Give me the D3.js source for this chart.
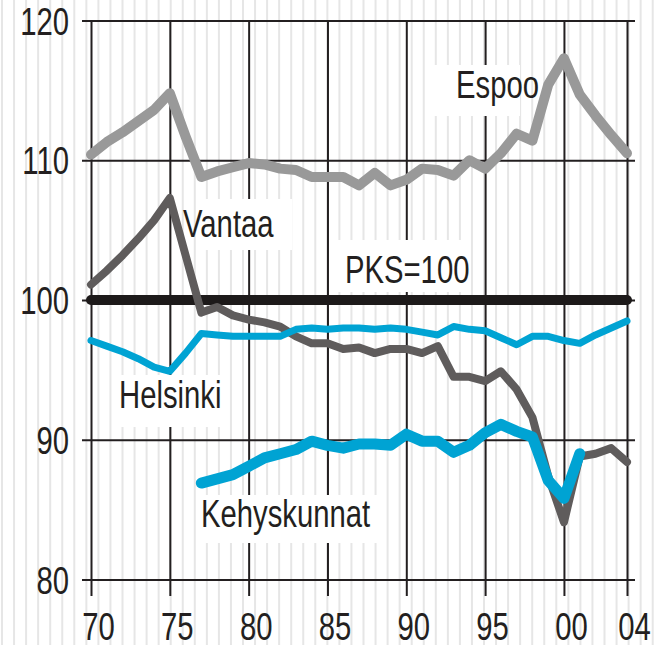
<!DOCTYPE html>
<html>
<head>
<meta charset="utf-8">
<script src="https://cdn.jsdelivr.net/npm/d3@7"></script>
<style>
  body { margin: 0; background: #fff; }
  svg { display: block; }
  text { font-family: "Liberation Sans", Arial, sans-serif; fill: #231f20; }
</style>
</head>
<body>
<div id="chart"></div>
<script>

// years on the x axis
var years = [1970, 1971, 1972, 1973, 1974, 1975, 1976, 1977, 1978, 1979,
             1980, 1981, 1982, 1983, 1984, 1985, 1986, 1987, 1988, 1989,
             1990, 1991, 1992, 1993, 1994, 1995, 1996, 1997, 1998, 1999,
             2000, 2001, 2002, 2003, 2004];
var kehysYears = years.filter(function (d) { return d >= 1977 && d <= 2001; });

// index, PKS = 100
var espoo = [110.4, 111.3, 112.0, 112.8, 113.6, 114.8, 111.7, 108.8, 109.2, 109.5,
             109.8, 109.7, 109.4, 109.3, 108.8, 108.8, 108.8, 108.2, 109.1, 108.2,
             108.6, 109.4, 109.3, 108.9, 110.0, 109.4, 110.5, 111.9, 111.4, 115.4,
             117.3, 114.7, 113.2, 111.8, 110.5];
var vantaa = [101.1, 102.1, 103.2, 104.4, 105.7, 107.3, 103.2, 99.1, 99.5, 98.9,
              98.6, 98.4, 98.1, 97.4, 96.9, 96.9, 96.5, 96.6, 96.2, 96.5,
              96.5, 96.2, 96.7, 94.5, 94.5, 94.2, 94.9, 93.6, 91.6, 87.4,
              84.1, 88.8, 89.0, 89.4, 88.4];
var helsinki = [97.1, 96.7, 96.3, 95.8, 95.2, 94.9, 96.2, 97.6, 97.5, 97.4,
                97.4, 97.4, 97.4, 97.9, 98.0, 97.9, 98.0, 98.0, 97.9, 98.0,
                97.9, 97.7, 97.5, 98.1, 97.9, 97.8, 97.3, 96.8, 97.4, 97.4,
                97.1, 96.9, 97.5, 98.0, 98.5];
var kehyskunnat = [86.9, 87.2, 87.5, 88.1, 88.7, 89.0, 89.3, 89.9, 89.6, 89.4,
                   89.7, 89.7, 89.6, 90.4, 89.9, 89.9, 89.1, 89.6, 90.5, 91.1,
                   90.6, 90.2, 87.1, 85.8, 89.0];

var yTicks = [80, 90, 100, 110, 120];
var xTicks = [1970, 1975, 1980, 1985, 1990, 1995, 2000, 2004];
var baseLevel = 100;

var W = 662, H = 645;
var ink = "#231f20";
var sx = 0.77; // narrow type

var svg = d3.select("#chart").append("svg")
    .attr("width", W)
    .attr("height", H);

var x = d3.scaleLinear().domain([1970, 2004]).range([91, 627]);
var y = d3.scaleLinear().domain([80, 120]).range([579.5, 20.5]);

// faint vertical stripes of the scanned background
svg.append("g")
    .selectAll("rect")
    .data(d3.range(1, W, 12.05))
    .enter()
    .append("rect")
    .attr("x", function (d) { return d; })
    .attr("y", 0)
    .attr("width", 2)
    .attr("height", H)
    .attr("fill", "#e6e6e6");

// horizontal grid
var yGrid = svg.append("g")
    .attr("transform", "translate(635,0)")
    .call(d3.axisLeft(y).tickValues(yTicks).tickSize(635 - 82).tickFormat(""));
yGrid.select(".domain").remove();
yGrid.selectAll("line").attr("stroke", ink).attr("stroke-width", 2);

// vertical grid
var xGrid = svg.append("g")
    .attr("transform", "translate(0,596)")
    .call(d3.axisBottom(x).tickValues(xTicks).tickSize(-(596 - y(120))).tickFormat(""));
xGrid.select(".domain").remove();
xGrid.selectAll("line").attr("stroke", ink).attr("stroke-width", 2);

// y labels
var yAxis = svg.append("g")
    .attr("transform", "translate(82,0)")
    .call(d3.axisLeft(y).tickValues(yTicks).tickSize(0).tickPadding(13));
yAxis.select(".domain").remove();
yAxis.selectAll("text")
    .attr("x", -13 / sx)
    .attr("dy", "0.36em")
    .attr("transform", "scale(" + sx + ",1)")
    .style("font-size", "38px")
    .attr("fill", ink);

// x labels
var xAxis = svg.append("g")
    .attr("transform", "translate(0,596)")
    .call(d3.axisBottom(x).tickValues(xTicks).tickSize(0)
        .tickFormat(function (d) { return String(d).slice(2); }));
xAxis.select(".domain").remove();
xAxis.selectAll("text")
    .attr("y", 0)
    .attr("dy", 0)
    .attr("transform", "translate(7,44) scale(" + sx + ",1)")
    .style("font-size", "38px")
    .attr("fill", ink);

// white boxes behind labels
var labels = [
    {text: "Espoo",       tx: 456, ty: 98,  box: [427, 65, 520, 116]},
    {text: "Vantaa",      tx: 183, ty: 237, box: [203, 199, 292, 250]},
    {text: "PKS=100",     tx: 345, ty: 283, box: [338, 240, 462, 292]},
    {text: "Helsinki",    tx: 119, ty: 408, box: [113, 375, 223, 427]},
    {text: "Kehyskunnat", tx: 201, ty: 527, box: [197, 495, 377, 543]}
];

svg.append("g")
    .selectAll("rect")
    .data(labels)
    .enter()
    .append("rect")
    .attr("x", function (d) { return d.box[0]; })
    .attr("y", function (d) { return d.box[1]; })
    .attr("width", function (d) { return d.box[2] - d.box[0]; })
    .attr("height", function (d) { return d.box[3] - d.box[1]; })
    .attr("fill", "#fff");

// PKS = 100 line
svg.append("line")
    .attr("x1", x(1970)).attr("x2", x(2004))
    .attr("y1", y(baseLevel)).attr("y2", y(baseLevel))
    .attr("stroke", "#1d1a1a")
    .attr("stroke-width", 10)
    .attr("stroke-linecap", "round");

var series = [
    {name: "Espoo",       xs: years,      vals: espoo,       color: "#999999", w: 10},
    {name: "Vantaa",      xs: years,      vals: vantaa,      color: "#5f5c5c", w: 8},
    {name: "Helsinki",    xs: years,      vals: helsinki,    color: "#00a3d3", w: 7},
    {name: "Kehyskunnat", xs: kehysYears, vals: kehyskunnat, color: "#00a3d3", w: 11}
];

var line = d3.line()
    .x(function (d) { return x(d[0]); })
    .y(function (d) { return y(d[1]); });

series.forEach(function (s) {
    svg.append("path")
        .datum(d3.zip(s.xs, s.vals))
        .attr("fill", "none")
        .attr("stroke", s.color)
        .attr("stroke-width", s.w)
        .attr("stroke-linejoin", "round")
        .attr("stroke-linecap", "round")
        .attr("d", line);
});

// labels
svg.append("g")
    .selectAll("text")
    .data(labels)
    .enter()
    .append("text")
    .attr("transform", function (d) { return "translate(" + d.tx + "," + d.ty + ") scale(" + sx + ",1)"; })
    .style("font-size", "38px")
    .text(function (d) { return d.text; });

</script>
</body>
</html>
